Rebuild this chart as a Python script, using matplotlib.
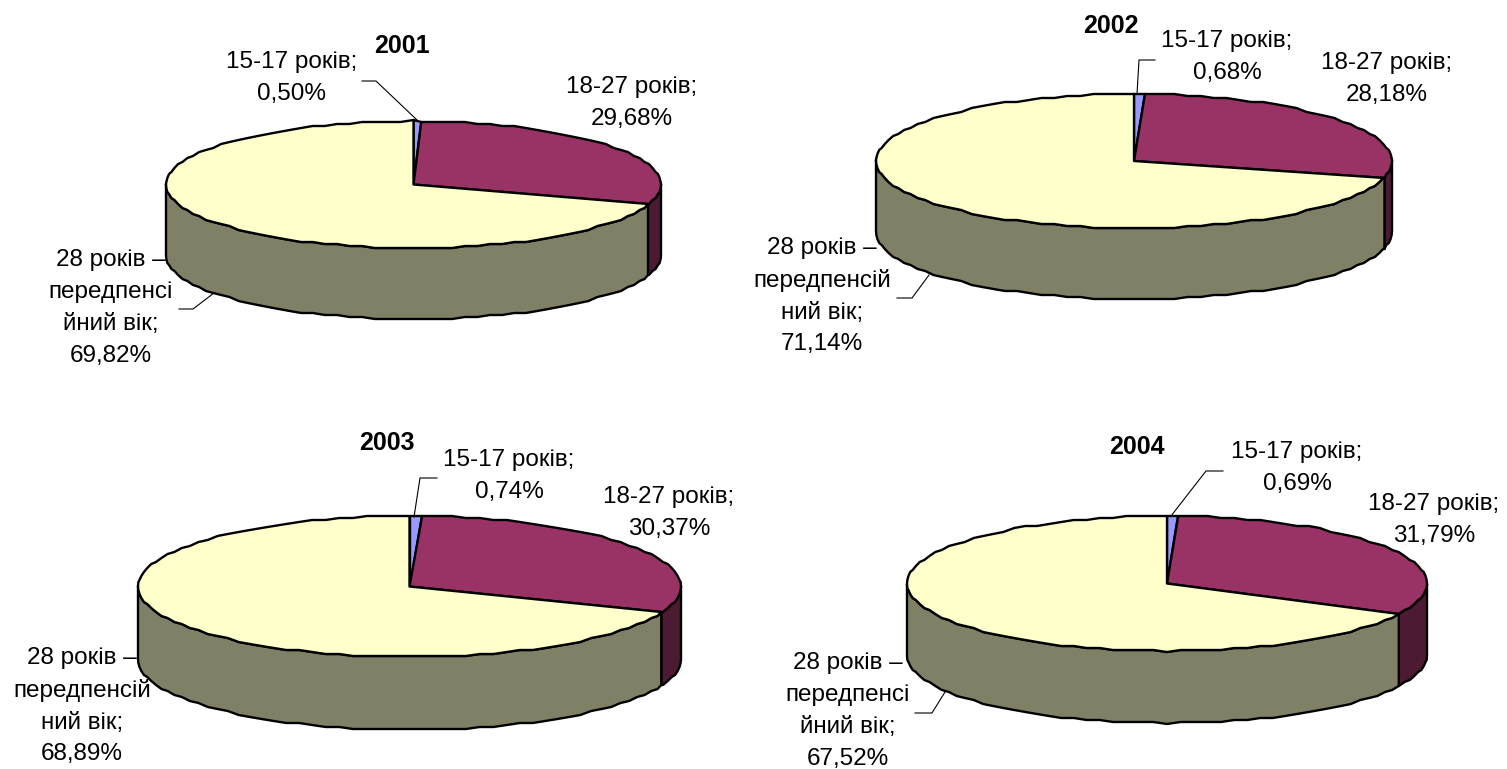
#!/usr/bin/env python
import numpy as np
import matplotlib
matplotlib.use('Agg')
import matplotlib.pyplot as plt
from matplotlib.patches import Polygon

plt.rcParams['font.family'] = ['Liberation Sans', 'DejaVu Sans']

years = ['2001', '2002', '2003', '2004']
age_groups = ['15-17 років;', '18-27 років;']
shares_young = [0.50, 0.68, 0.74, 0.69]
shares_mid = [29.68, 28.18, 30.37, 31.79]
shares_old = [69.82, 71.14, 68.89, 67.52]
old_wraps = [
    '28 років –\nпередпенсі\nйний вік;',
    '28 років –\nпередпенсій\nний вік;',
    '28 років –\nпередпенсій\nний вік;',
    '28 років –\nпередпенсі\nйний вік;',
]

# ellipse centre, radii and wall height in pixels
pie_boxes = [
    (413.5, 184.5, 247.5, 63.5, 71),
    (1134, 161, 258, 67, 71),
    (409.5, 586.5, 271.5, 70.5, 73),
    (1167, 583.5, 260, 67.5, 72),
]
title_pos = [(402, 46), (1111, 26), (387, 443), (1137, 447)]
young_pos = [(292, 78), (1227, 57), (509, 476), (1297, 468)]
mid_pos = [(632, 103), (1387, 79), (669, 513), (1434, 520)]
old_pos = [(111, 308), (822, 296), (82, 706), (848, 711)]

young_leaders = [
    ([362, 376, 417], [81, 81, 120]),
    ([1155, 1139, 1137], [60, 60, 94]),
    ([437, 420, 414], [478, 478, 517]),
    ([1223, 1206, 1171], [471, 471, 516]),
]
old_leaders = [
    ([179, 193, 214], [309, 309, 293]),
    ([897, 912, 929], [298, 298, 275]),
    None,
    ([915, 932, 945], [713, 713, 692]),
]

colors_top = ['#9999FF', '#993366', '#FFFFCC']
colors_side = ['#4D4D80', '#4D1A33', '#808066']
FONT = 17.5
STEP = 3.0
GRID = 2.0


def rim(box, start, stop, drop=0):
    # clockwise from 12 o'clock on a fixed angle grid, y snapped to a coarse
    # grid so the edge gets the chart's jagged look; walls and tops share it
    cx, cy, rx, ry, _ = box
    inner = np.arange(np.ceil(start / STEP + 1e-6), np.floor(stop / STEP - 1e-6) + 1) * STEP
    angles = np.radians(np.concatenate([[start], inner, [stop]]))
    xs = cx + rx * np.sin(angles)
    ys = cy - ry * np.cos(angles)
    ys = np.round(ys / GRID) * GRID + drop
    return np.column_stack([xs, ys])


def draw_pie(axis, box, values):
    cx, cy = box[0], box[1]
    depth = box[4]
    edges = 360.0 * np.cumsum([0] + list(values)) / np.sum(values)

    # walls on the near half of the rim only
    for i in range(3):
        start, stop = max(edges[i], 90), min(edges[i + 1], 270)
        if stop <= start:
            continue
        top_edge = rim(box, start, stop)
        low_edge = rim(box, start, stop, drop=depth)[::-1]
        axis.add_patch(Polygon(np.vstack([top_edge, low_edge]), closed=True,
                               facecolor=colors_side[i], edgecolor='black',
                               linewidth=1.7, joinstyle='round', zorder=2))

    for i in range(3):
        outline = np.vstack([[[cx, cy]], rim(box, edges[i], edges[i + 1])])
        axis.add_patch(Polygon(outline, closed=True, facecolor=colors_top[i],
                               edgecolor='black', linewidth=1.7,
                               joinstyle='round', zorder=3))


def fmt(value):
    return '{:.2f}%'.format(value).replace('.', ',')


fig = plt.figure(figsize=(15.07, 7.69), dpi=100)
ax = fig.add_axes([0, 0, 1, 1])
ax.set(xlim=(0, 1507), ylim=(769, 0))
ax.axis('off')

for n, year in enumerate(years):
    values = [shares_young[n], shares_mid[n], shares_old[n]]
    draw_pie(ax, pie_boxes[n], values)

    ax.text(*title_pos[n], year, fontsize=18, fontweight='bold',
            ha='center', va='center', zorder=5)
    ax.text(*young_pos[n], age_groups[0] + '\n' + fmt(shares_young[n]),
            fontsize=FONT, ha='center', va='center', linespacing=1.53, zorder=5)
    ax.text(*mid_pos[n], age_groups[1] + '\n' + fmt(shares_mid[n]),
            fontsize=FONT, ha='center', va='center', linespacing=1.53, zorder=5)
    ax.text(*old_pos[n], old_wraps[n] + '\n' + fmt(shares_old[n]),
            fontsize=FONT, ha='center', va='center', linespacing=1.57, zorder=5)

    ax.plot(*young_leaders[n], color='black', linewidth=0.8, zorder=4)
    if old_leaders[n] is not None:
        ax.plot(*old_leaders[n], color='black', linewidth=0.8, zorder=4)

fig.savefig('out.png', dpi=100)
